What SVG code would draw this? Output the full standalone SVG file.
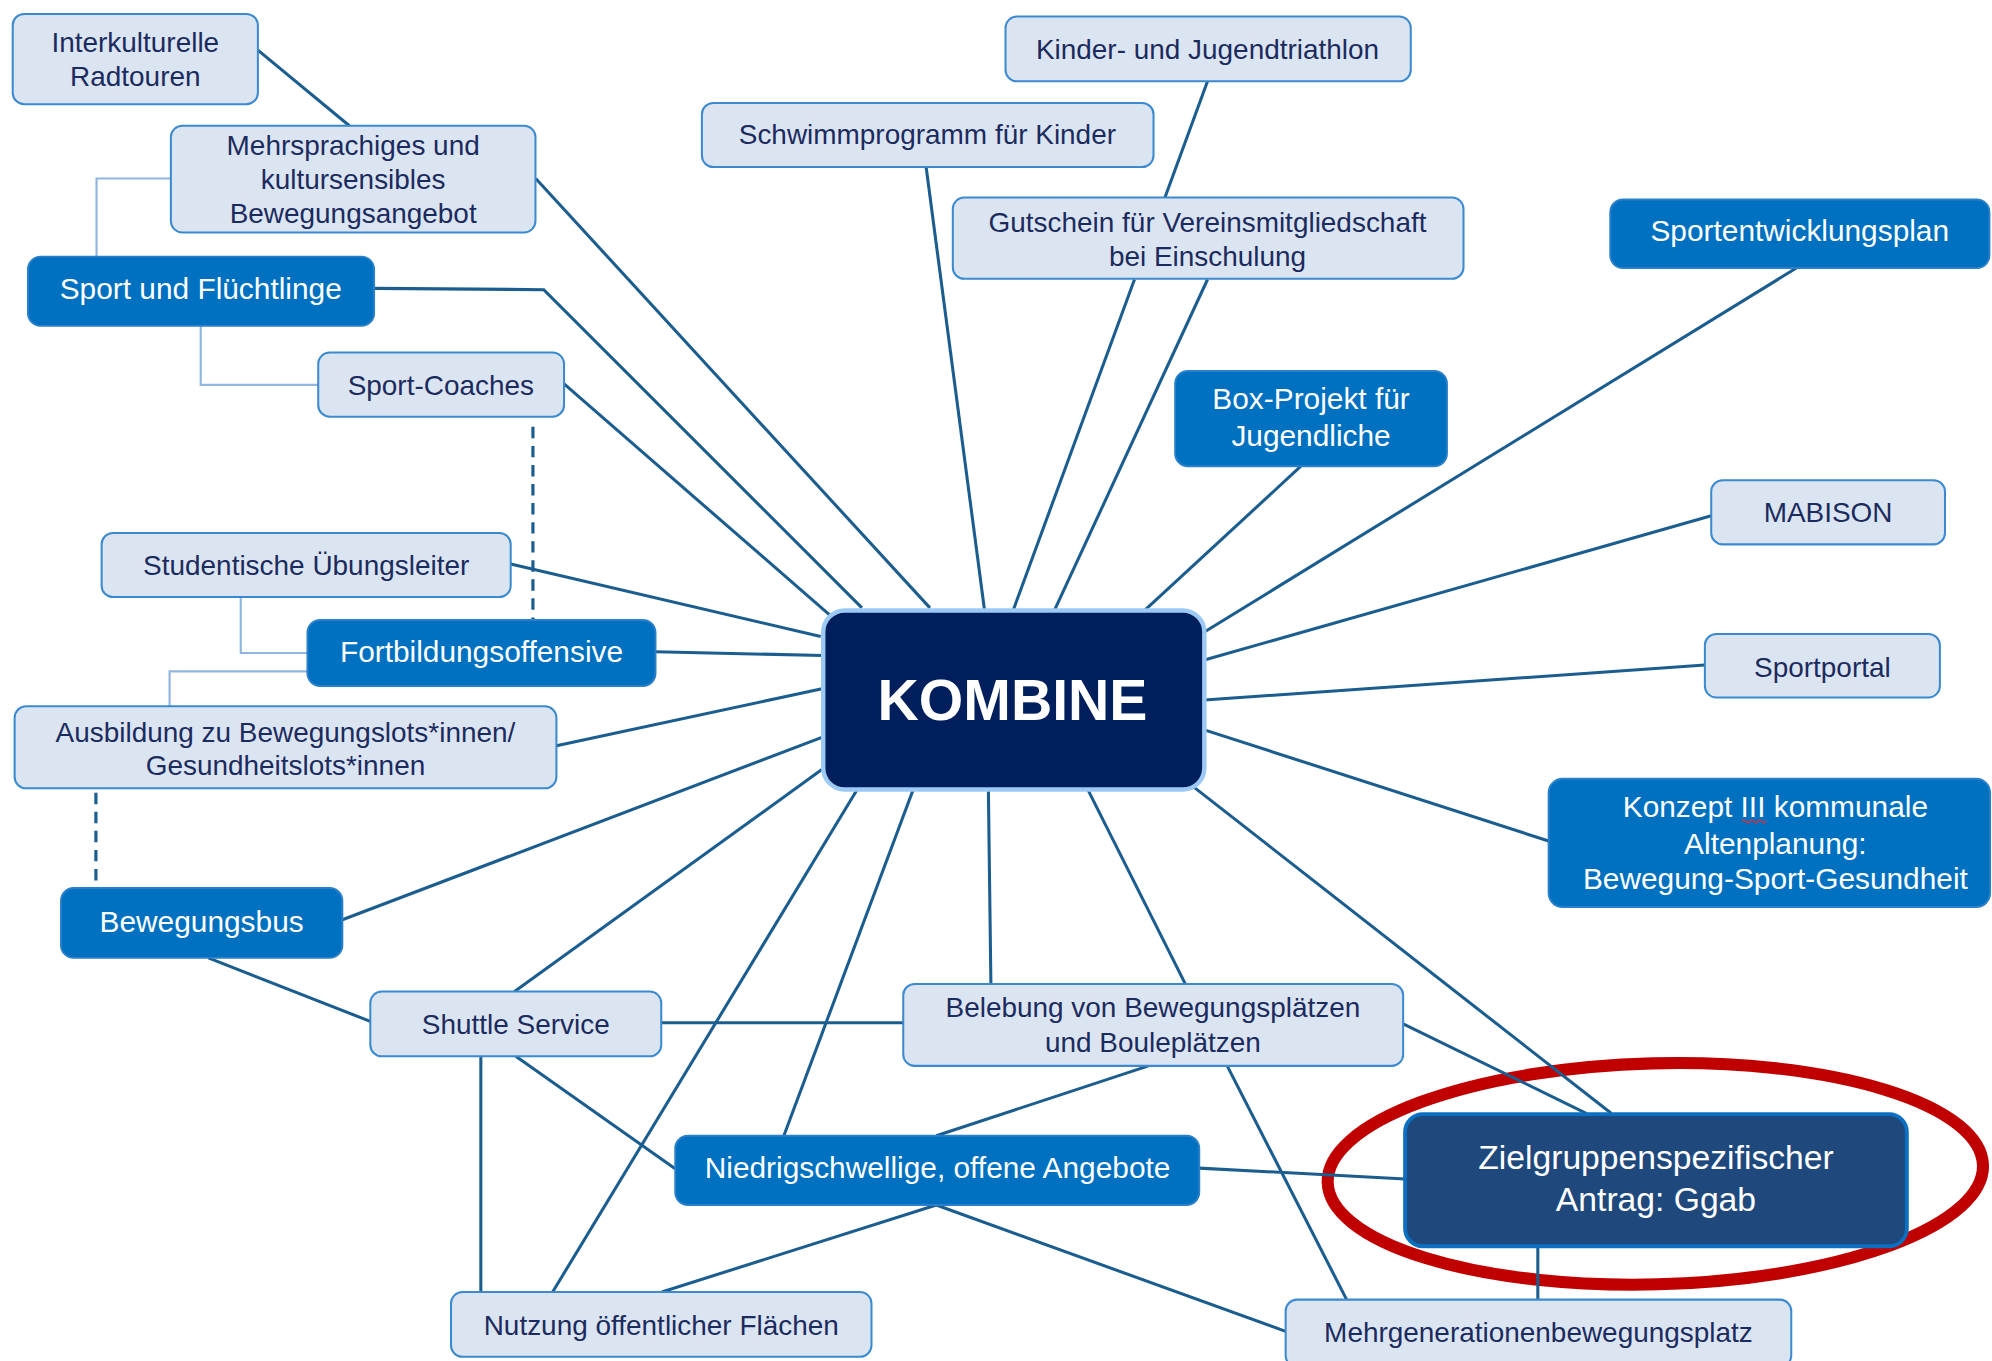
<svg xmlns="http://www.w3.org/2000/svg" width="1992" height="1361" viewBox="0 0 1992 1361">
<style>
text{font-family:"Liberation Sans",Arial,sans-serif;text-anchor:middle}
.conn{stroke:#1b5d8f;stroke-width:2.4;fill:none}
.dash{stroke-dasharray:9 6;stroke-width:2.5}
.tree{stroke:#8fb5e0;stroke-width:1.7;fill:none}
.light rect{fill:#dbe5f1;stroke:#3b8ad0;stroke-width:1.6}
.light text{fill:#1b2b5e;font-size:22px}
.dark rect{fill:#0070c0;stroke:#2a80ca;stroke-width:1.5}
.dark text{fill:#ffffff;font-size:23.5px}
</style>
<rect width="1992" height="1361" fill="#ffffff"/>
<g transform="scale(1.2704)">
<ellipse id="highlight" cx="1303" cy="924" rx="258" ry="87" transform="rotate(-1.5 1303 924)" fill="none" stroke="#c00000" stroke-width="9.5"/>
<g id="connectors">
<path class="conn" d="M203 39.5L275 99"/>
<path class="conn" d="M421.7 140.5L732 478.5"/>
<path class="conn" d="M294.5 227L428 228L678.5 478.5"/>
<path class="conn" d="M443.8 302L653 484"/>
<path class="conn" d="M402 444L646 501"/>
<path class="conn" d="M516 513L648 516"/>
<path class="conn" d="M438 587L648 542"/>
<path class="conn" d="M269.5 724L648 580"/>
<path class="conn" d="M164 754L291.5 804"/>
<path class="conn" d="M405 780.5L648 605"/>
<path class="conn" d="M520.5 805L711 805"/>
<path class="conn" d="M378.5 831.5L378.5 1017"/>
<path class="conn" d="M406 831.5L531.5 920"/>
<path class="conn" d="M435 1017L675 621"/>
<path class="conn" d="M617 894L719 621"/>
<path class="conn" d="M780 774.5L778 621"/>
<path class="conn" d="M933 774.5L856 621"/>
<path class="conn" d="M904 839L737 894"/>
<path class="conn" d="M966 839L1060 1023"/>
<path class="conn" d="M1104.5 806L1249 876.5"/>
<path class="conn" d="M939 619L1268.5 876.5"/>
<path class="conn" d="M944 919.5L1106 928"/>
<path class="conn" d="M737 948.5L521 1017"/>
<path class="conn" d="M737 948.5L1012 1048"/>
<path class="conn" d="M1210.5 981L1210.5 1023"/>
<path class="conn" d="M948 574.5L1219 662"/>
<path class="conn" d="M948 551L1342 523.5"/>
<path class="conn" d="M948 519.5L1347 406"/>
<path class="conn" d="M948 497.5L1414 211"/>
<path class="conn" d="M901 480.5L1024 367"/>
<path class="conn" d="M830 480.5L950.5 220"/>
<path class="conn" d="M797.5 480.5L893 220"/>
<path class="conn" d="M917 155.5L950.5 64"/>
<path class="conn" d="M775 480.5L729 131.5"/>
<path class="conn dash" d="M419.5 336L419.5 488"/>
<path class="conn dash" d="M75.5 624L75.5 699"/>
<path class="tree" d="M134.5 140.5H76V202"/>
<path class="tree" d="M158 256.5V303H250.5"/>
<path class="tree" d="M189.5 470V514H242"/>
<path class="tree" d="M242 528.5H133.5V556"/>
</g>
<g id="n_interkult" class="light"><rect x="10" y="11" width="193" height="71" rx="9"/><text x="106.5" y="40.8">Interkulturelle</text><text x="106.5" y="67.8">Radtouren</text></g>
<g id="n_mehrsprachig" class="light"><rect x="134.5" y="99" width="287" height="84" rx="9"/><text x="278" y="121.7">Mehrsprachiges und</text><text x="278" y="148.7">kultursensibles</text><text x="278" y="175.7">Bewegungsangebot</text></g>
<g id="n_coaches" class="light"><rect x="250.5" y="277.5" width="193.5" height="50.5" rx="9"/><text x="347" y="310.7">Sport-Coaches</text></g>
<g id="n_studentisch" class="light"><rect x="80" y="419.5" width="322" height="50.5" rx="9"/><text x="241" y="452.7">Studentische Übungsleiter</text></g>
<g id="n_ausbildung" class="light"><rect x="11.5" y="556" width="426.5" height="64.5" rx="9"/><text x="224.7" y="583.7">Ausbildung zu Bewegungslots*innen/</text><text x="224.7" y="609.7">Gesundheitslots*innen</text></g>
<g id="n_shuttle" class="light"><rect x="291.5" y="780.5" width="229" height="51" rx="9"/><text x="406" y="813.7">Shuttle Service</text></g>
<g id="n_nutzung" class="light"><rect x="355" y="1017" width="331" height="51" rx="9"/><text x="520.5" y="1050.7">Nutzung öffentlicher Flächen</text></g>
<g id="n_belebung" class="light"><rect x="711" y="774.5" width="393.5" height="64.5" rx="9"/><text x="907.5" y="800.7">Belebung von Bewegungsplätzen</text><text x="907.5" y="827.7">und Bouleplätzen</text></g>
<g id="n_mehrgen" class="light"><rect x="1012" y="1023" width="398" height="53" rx="9"/><text x="1211" y="1056.7">Mehrgenerationenbewegungsplatz</text></g>
<g id="n_kinder" class="light"><rect x="791.5" y="13" width="319" height="51" rx="9"/><text x="950.5" y="46.7">Kinder- und Jugendtriathlon</text></g>
<g id="n_schwimm" class="light"><rect x="552.5" y="81" width="355.5" height="50.5" rx="9"/><text x="730" y="113.7">Schwimmprogramm für Kinder</text></g>
<g id="n_gutschein" class="light"><rect x="750" y="155.5" width="402" height="64" rx="9"/><text x="950.5" y="182.7">Gutschein für Vereinsmitgliedschaft</text><text x="950.5" y="209.7">bei Einschulung</text></g>
<g id="n_mabison" class="light"><rect x="1347" y="378" width="184" height="50.5" rx="9"/><text x="1439" y="410.7">MABISON</text></g>
<g id="n_sportportal" class="light"><rect x="1342" y="499" width="185" height="50" rx="9"/><text x="1434.5" y="532.7">Sportportal</text></g>
<g id="n_fluechtlinge" class="dark"><rect x="22" y="202" width="272.5" height="54.5" rx="10"/><text x="158" y="235.2">Sport und Flüchtlinge</text></g>
<g id="n_fortbildung" class="dark"><rect x="242" y="488" width="274" height="52" rx="10"/><text x="379" y="521">Fortbildungsoffensive</text></g>
<g id="n_bewegungsbus" class="dark"><rect x="48" y="699" width="221.5" height="55" rx="10"/><text x="158.7" y="734">Bewegungsbus</text></g>
<g id="n_niedrig" class="dark"><rect x="531.5" y="894" width="412.5" height="54.5" rx="10"/><text x="738" y="927">Niedrigschwellige, offene Angebote</text></g>
<g id="n_box" class="dark"><rect x="925" y="292" width="214" height="75" rx="10"/><text x="1032" y="322">Box-Projekt für</text><text x="1032" y="351">Jugendliche</text></g>
<g id="n_sep" class="dark"><rect x="1267.5" y="157" width="298.5" height="54" rx="10"/><text x="1416.7" y="190">Sportentwicklungsplan</text></g>
<g id="n_konzept" class="dark"><rect x="1219" y="613" width="347.5" height="101" rx="11"/><text x="1397.5" y="643">Konzept III kommunale</text><text x="1397.5" y="672">Altenplanung:</text><text x="1397.5" y="700">Bewegung-Sport-Gesundheit</text><path d="M1371 646.5q1.6-2.2 3.2 0t3.2 0t3.2 0t3.2 0t3.2 0t3.2 0" fill="none" stroke="#e03030" stroke-width="1.1"/></g>
<g id="n_ziel"><rect x="1106" y="877" width="395" height="104" rx="14" fill="#1f497d" stroke="#0b70c2" stroke-width="3"/><text x="1303.5" y="920.3" fill="#ffffff" font-size="26.5">Zielgruppenspezifischer</text><text x="1303.5" y="953.3" fill="#ffffff" font-size="26.5">Antrag: Ggab</text></g>
<g id="n_kombine"><rect x="648" y="480.5" width="300" height="141" rx="17" fill="#001f5c" stroke="#9ccaf5" stroke-width="3.5"/><text x="797" y="567" fill="#ffffff" font-size="45" font-weight="bold">KOMBINE</text></g>
</g>
</svg>
